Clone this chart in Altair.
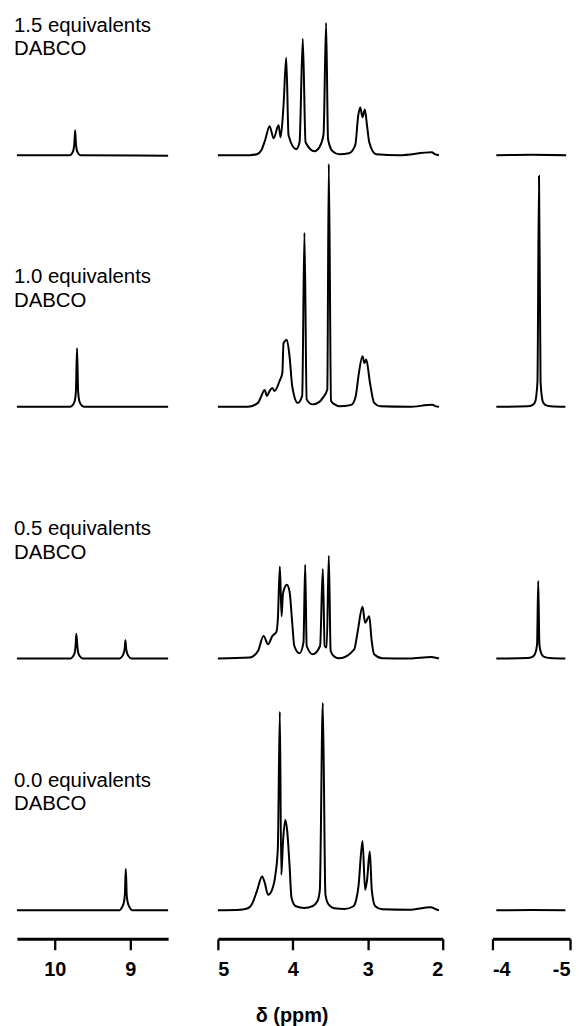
import altair as alt
import pandas as pd

# ---- data: (ppm, intensity above the trace baseline) ----
TRACE_NAMES = ["1.5", "1.0", "0.5", "0.0"]
LABELS = ["1.5 equivalents\nDABCO", "1.0 equivalents\nDABCO",
          "0.5 equivalents\nDABCO", "0.0 equivalents\nDABCO"]

T15_LEFT = [(10.5, 0), (9.80, 0), (9.77, 2), (9.75, 6), (9.74, 12), (9.73, 25),
            (9.72, 12), (9.71, 6), (9.69, 2), (9.66, 0), (8.5, -0.5)]
T15_MID = [(5.0, 0), (4.575, 0), (4.48, 1), (4.42, 5), (4.37, 15), (4.31, 29),
           (4.256, 17), (4.19, 30), (4.163, 18), (4.124, 50), (4.088, 98),
           (4.057, 20), (3.955, 6), (3.91, 13), (3.867, 117), (3.83, 13),
           (3.71, 4), (3.645, 8), (3.59, 21), (3.556, 133), (3.53, 16),
           (3.47, 4), (3.38, 1), (3.25, 2), (3.167, 10), (3.127, 40),
           (3.10, 48), (3.07, 38), (3.04, 46), (3.01, 30), (2.98, 13),
           (2.89, 1), (2.58, 0), (2.145, 3), (2.105, 1), (2.05, 0)]
T15_RIGHT = [(-4.05, 0), (-4.5, 0.5), (-4.95, 0)]

T10_LEFT = [(10.5, 0), (9.80, 0), (9.76, 2), (9.735, 6), (9.72, 15), (9.705, 59),
            (9.69, 15), (9.675, 6), (9.65, 2), (9.61, 0), (8.5, 0)]
T10_MID = [(5.0, 0), (4.6, 0), (4.465, 4), (4.43, 9), (4.376, 17), (4.345, 11),
           (4.31, 16), (4.274, 19), (4.243, 16), (4.177, 26), (4.14, 34),
           (4.124, 64), (4.106, 66), (4.08, 67.5), (4.044, 51), (4.008, 21),
           (3.934, 4), (3.875, 11), (3.845, 175), (3.815, 7.5), (3.734, 2.5),
           (3.645, 5), (3.60, 9), (3.54, 17.5), (3.52, 244), (3.49, 6),
           (3.43, 2), (3.38, 0.5), (3.22, 2), (3.16, 11), (3.124, 31),
           (3.07, 51), (3.045, 44), (3.02, 47.5), (2.97, 24), (2.915, 4),
           (2.83, 0.5), (2.45, 0), (2.14, 2), (2.09, 0.5), (2.05, 0)]
T10_RIGHT = [(-4.05, 0), (-4.45, 0.5), (-4.52, 2), (-4.55, 5), (-4.58, 25),
             (-4.60, 232), (-4.62, 25), (-4.65, 5), (-4.68, 2), (-4.75, 0.5),
             (-4.94, 0)]

T05_LEFT = [(10.5, 0), (9.79, 0), (9.76, 2), (9.735, 6), (9.725, 12), (9.714, 25),
            (9.70, 12), (9.69, 6), (9.665, 2), (9.63, 0), (9.14, 0), (9.11, 2),
            (9.085, 6), (9.075, 10), (9.065, 18.5), (9.055, 10), (9.045, 6),
            (9.02, 2), (8.99, 0), (8.5, 0)]
T05_MID = [(5.0, 0), (4.575, 1), (4.465, 7.6), (4.39, 22.6), (4.33, 14.3),
           (4.274, 22.6), (4.22, 26.6), (4.20, 39.3), (4.173, 92.6), (4.15, 42.6),
           (4.133, 64.3), (4.11, 71), (4.08, 74.3), (4.044, 67.6), (4.008, 36),
           (3.98, 12.6), (3.91, 5.3), (3.858, 16), (3.835, 94.3), (3.815, 12.6),
           (3.734, 4.3), (3.636, 12.6), (3.60, 90), (3.575, 12.6), (3.548, 11),
           (3.52, 103.3), (3.495, 7.6), (3.446, 2), (3.38, 0.3), (3.18, 9.3),
           (3.137, 26), (3.07, 52), (3.035, 36), (2.98, 42.6), (2.95, 19.3),
           (2.915, 4.3), (2.805, 0.3), (2.45, 0), (2.15, 1.6), (2.05, 0)]
T05_RIGHT = [(-4.05, 0), (-4.45, 0.5), (-4.52, 2), (-4.55, 5), (-4.575, 14),
             (-4.59, 78), (-4.605, 14), (-4.63, 5), (-4.66, 2), (-4.74, 0.5),
             (-4.94, 0)]

T00_LEFT = [(10.5, 0), (9.14, 0), (9.11, 3), (9.085, 8), (9.072, 16), (9.06, 41.6),
            (9.048, 16), (9.035, 8), (9.01, 3), (8.98, 0), (8.5, 0)]
T00_MID = [(5.0, 0), (4.7, 0.5), (4.6, 2), (4.55, 5.6), (4.48, 19), (4.41, 34),
           (4.376, 28), (4.33, 15.6), (4.28, 20), (4.23, 37), (4.20, 62),
           (4.173, 199.6), (4.154, 35.6), (4.13, 70), (4.10, 90.6), (4.074, 79),
           (4.044, 45.6), (4.017, 12.3), (3.96, 4), (3.845, 2.3), (3.74, 4),
           (3.672, 9), (3.64, 20), (3.60, 208.3), (3.565, 16), (3.525, 6),
           (3.446, 2), (3.31, 1.3), (3.19, 4), (3.15, 12), (3.124, 24),
           (3.07, 69.6), (3.035, 20.6), (3.01, 30), (2.973, 59), (2.946, 20),
           (2.90, 4), (2.81, 1), (2.45, 0.5), (2.16, 3), (2.09, 1), (2.05, 0)]
T00_RIGHT = [(-4.05, 0), (-4.5, 0.3), (-4.94, 0)]

TRACES = {
    "1.5": {"left": T15_LEFT, "mid": T15_MID, "right": T15_RIGHT},
    "1.0": {"left": T10_LEFT, "mid": T10_MID, "right": T10_RIGHT},
    "0.5": {"left": T05_LEFT, "mid": T05_MID, "right": T05_RIGHT},
    "0.0": {"left": T00_LEFT, "mid": T00_MID, "right": T00_RIGHT},
}

# ---- layout constants ----
PLOT_H = 941
OFFSET_BASE = 28.7
OFFSET_STEP = 253
LABEL_RISE = 124
FONT = "Liberation Sans"

rows = []
for i, name in enumerate(TRACE_NAMES):
    off = OFFSET_BASE + OFFSET_STEP * (len(TRACE_NAMES) - 1 - i)
    for seg, pts in TRACES[name].items():
        for ppm, h in pts:
            rows.append({"trace": name, "seg": seg, "ppm": ppm, "y": h + off})
df = pd.DataFrame(rows)

lab_df = pd.DataFrame({
    "trace": TRACE_NAMES,
    "label": LABELS,
    "y": [OFFSET_BASE + OFFSET_STEP * (len(TRACE_NAMES) - 1 - i) + LABEL_RISE
          for i in range(len(TRACE_NAMES))],
})

yscale = alt.Scale(domain=[0, PLOT_H], nice=False, zero=False)

label_expr = "datum.value < 0 ? '-' + (-datum.value) : '' + datum.value"


def segment(seg, domain, width, ticks, with_labels=False):
    line = alt.Chart(df[df.seg == seg]).mark_line(
        color="black", strokeWidth=2, interpolate="monotone"
    ).encode(
        x=alt.X("ppm:Q",
                scale=alt.Scale(domain=domain, reverse=True, nice=False, zero=False),
                axis=alt.Axis(values=ticks, title=None, grid=False,
                              labelExpr=label_expr)),
        y=alt.Y("y:Q", scale=yscale, axis=None),
        detail="trace:N",
        order=alt.Order("ppm:Q", sort="descending"),
    )
    layers = [line]
    if with_labels:
        txt = alt.Chart(lab_df).mark_text(
            align="left", baseline="alphabetic", lineBreak="\n",
            fontSize=20.5, lineHeight=23.5, font=FONT, color="black"
        ).encode(
            x=alt.value(-3),
            y=alt.Y("y:Q", scale=yscale, axis=None),
            text="label:N",
        )
        layers.append(txt)
    return alt.layer(*layers).properties(width=width, height=PLOT_H)


left = segment("left", [8.5, 10.5], 152, [10, 9], with_labels=True)
mid = segment("mid", [2, 5], 226, [5, 4, 3, 2])
right = segment("right", [-5, -4], 78, [-4, -5])

chart = alt.hconcat(left, mid, right, spacing=50, bounds="flush").properties(
    padding={"left": 13, "top": 0, "right": 7, "bottom": 0},
    title=alt.TitleParams("δ (ppm)", orient="bottom", anchor="middle",
                          fontSize=20, fontWeight="bold", font=FONT,
                          color="black", offset=27),
).configure_view(stroke=None).configure_axis(
    domainColor="black", domainWidth=3, tickColor="black", tickWidth=2.3,
    tickSize=11, labelFont=FONT, labelFontSize=20, labelFontWeight="bold",
    labelColor="black", labelPadding=10,
)

chart.save("out.html", embed_options={"renderer": "svg", "actions": False})
